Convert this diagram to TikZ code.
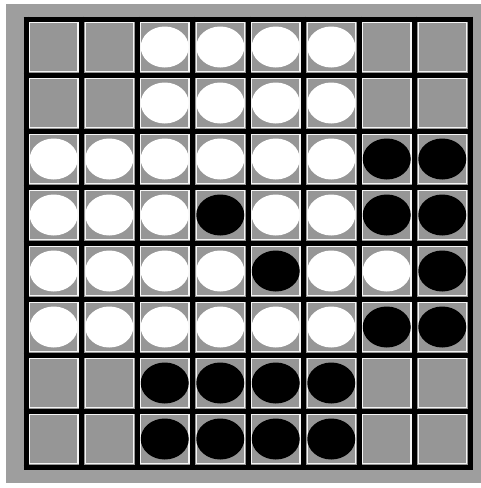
\documentclass[tikz,border=0pt]{standalone}
\definecolor{boardgray}{RGB}{158,158,158}
\definecolor{cellgray}{RGB}{150,150,150}
\tikzset{
  gridline/.style={line width=5pt, draw=black},
  hilite/.style={line width=1.2pt, draw=white!92!gray},
  whitedisc/.style={fill=white},
  blackdisc/.style={fill=black},
}
\begin{document}
\begin{tikzpicture}[x=1pt,y=-1pt]
\useasboundingbox (0,0) rectangle (481,488);
\fill[white] (0,0) rectangle (481,488);
\fill[boardgray] (6,4) rectangle (481,483);
% cells
\foreach \i in {0,...,7}{
  \foreach \j in {0,...,7}{
    \fill[cellgray] ({26+55.5*\i},{19+56*\j}) rectangle ({26+55.5*(\i+1)},{19+56*(\j+1)});
    \draw[hilite] ({26+55.5*\i+3.6},{19+56*\j+3.6}) rectangle ({26+55.5*(\i+1)-3.6},{19+56*(\j+1)-3.6});
  }
}
% grid lines
\foreach \k in {0,...,8}{
  \draw[gridline] ({26+55.5*\k},{19-2.5}) -- ({26+55.5*\k},{467+2.5});
  \draw[gridline] ({26-2.5},{19+56*\k}) -- ({470+2.5},{19+56*\k});
}
% discs: rows top to bottom
\foreach \row/\cells in {
  0/{E,E,W,W,W,W,E,E},
  1/{E,E,W,W,W,W,E,E},
  2/{W,W,W,W,W,W,B,B},
  3/{W,W,W,B,W,W,B,B},
  4/{W,W,W,W,B,W,W,B},
  5/{W,W,W,W,W,W,B,B},
  6/{E,E,B,B,B,B,E,E},
  7/{E,E,B,B,B,B,E,E}}{
  \foreach \c [count=\n from 0] in \cells {
    \if\c W
      \fill[whitedisc] ({26+55.5*(\n+0.5)},{19+56*(\row+0.5)}) ellipse [x radius=24, y radius=20.5];
    \fi
    \if\c B
      \fill[blackdisc] ({26+55.5*(\n+0.5)},{19+56*(\row+0.5)}) ellipse [x radius=24, y radius=20.5];
    \fi
  }
}
\end{tikzpicture}
\end{document}
